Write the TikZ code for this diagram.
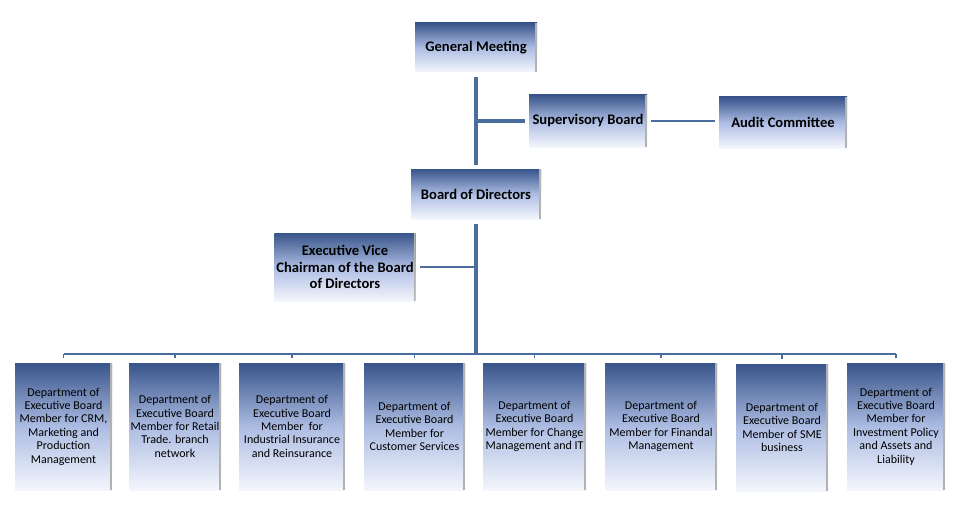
\documentclass[tikz,border=0pt]{standalone}
\usepackage{fontspec}
\setmainfont{Carlito}
\usepackage{tikz}

\definecolor{linkblue}{RGB}{74,109,158}
\definecolor{boxtop}{RGB}{56,84,138}
\definecolor{boxmid}{RGB}{172,188,226}
\definecolor{boxbot}{RGB}{244,246,253}

\tikzset{
  orgbox/.style={rectangle, inner sep=2pt, align=center,
    top color=boxtop, bottom color=boxbot, middle color=boxmid,
    path picture={\fill[gray!60] ([xshift=-2pt]path picture bounding box.north east)
      rectangle (path picture bounding box.south east);}},
  headbox/.style={orgbox, font=\fontsize{14.6}{16.5}\selectfont\bfseries},
  deptbox/.style={orgbox, inner xsep=0pt, minimum height=127pt,
    font=\fontsize{12}{13.4}\selectfont},
  link/.style={linkblue, line width=3.5pt},
  thinlink/.style={linkblue, line width=2.5pt},
  tick/.style={linkblue, line width=1.8pt}
}

\begin{document}
\begin{tikzpicture}[x=1pt, y=-1pt]
\useasboundingbox (0,0) rectangle (962,527);

% Top of the hierarchy
\node[headbox, minimum width=122pt, minimum height=49pt] (gm) at (476,47.5) {General Meeting};
\node[headbox, minimum width=118pt, minimum height=52pt] (sb) at (588,121) {Supervisory Board};
\node[headbox, minimum width=128pt, minimum height=51pt] (ac) at (783,122.5) {Audit Committee};
\node[headbox, minimum width=130pt, minimum height=50pt] (bod) at (476,194) {Board of Directors};
\node[headbox, minimum width=140pt, minimum height=68pt] (evc) at (345,267)
  {Executive Vice\\Chairman of the Board\\of Directors};

% Departments
\node[deptbox, minimum width=97pt] (d1) at (63.5,426.5)
  {Department of\\Executive Board\\Member for CRM,\\Marketing and\\Production\\Management};
\node[deptbox, minimum width=92pt] (d2) at (175,426.5)
  {Department of\\Executive Board\\Member for Retail\\Trade. branch\\network};
\node[deptbox, minimum width=106pt] (d3) at (292,426.5)
  {Department of\\Executive Board\\Member\ \ for\\Industrial Insurance\\and Reinsurance};
\node[deptbox, minimum width=101pt] (d4) at (414.5,426.5)
  {Department of\\Executive Board\\Member for\\Customer Services};
\node[deptbox, minimum width=103pt] (d5) at (534.5,426.5)
  {Department of\\Executive Board\\Member for Change\\Management and IT};
\node[deptbox, minimum width=112pt] (d6) at (661,426.5)
  {Department of\\Executive Board\\Member for Finandal\\Management};
\node[deptbox, minimum width=92pt] (d7) at (782,427.5)
  {Department of\\Executive Board\\Member of SME\\business};
\node[deptbox, minimum width=98pt] (d8) at (896,426.5)
  {Department of\\Executive Board\\Member for\\Investment Policy\\and Assets and\\Liability};

% Connectors
\coordinate (bus) at (476,354);
\draw[link, shorten <=5pt, shorten >=4pt] (gm.south) -- (bod.north);
\draw[link, shorten <=4pt] (sb.west) -- (sb.west -| gm.south);
\draw[thinlink, shorten <=4pt, shorten >=4pt] (sb.east) -- (sb.east -| ac.west);
\draw[link, shorten <=5pt] (bod.south) -- (bus);
\draw[thinlink, shorten <=4pt] (evc.east) -- (evc.east -| bod.south);
\draw[thinlink] (d1.north |- bus) -- (d8.north |- bus);
\foreach \d in {d1,d2,d3,d4,d5,d6,d7,d8}
  \draw[tick, shorten >=5pt] (\d.north |- bus) -- (\d.north);

\end{tikzpicture}
\end{document}
